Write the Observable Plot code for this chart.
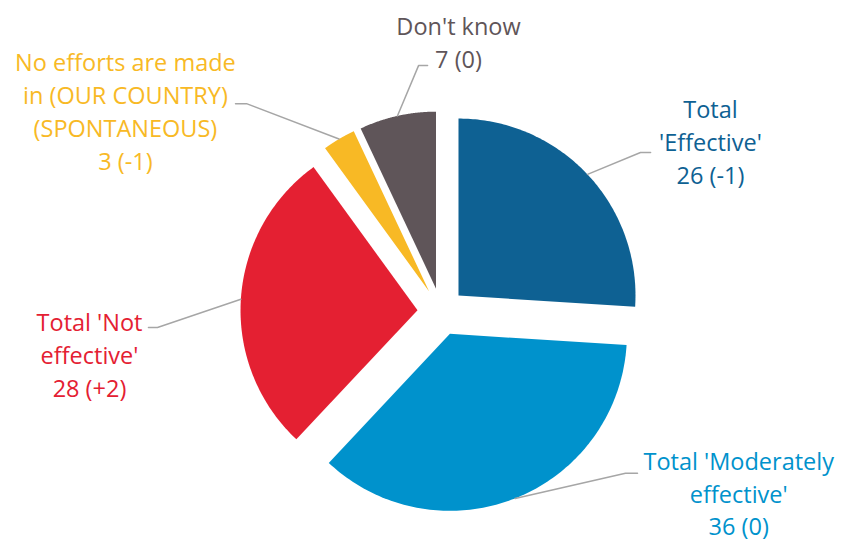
<!DOCTYPE html>
<html><head><meta charset="utf-8">
<script src="https://cdn.jsdelivr.net/npm/d3@7"></script>
<script src="https://cdn.jsdelivr.net/npm/@observablehq/plot@0.6"></script>
<style>body{margin:0;background:#fff}</style>
</head><body><div id="chart"></div>
<script>
// ---- data ----
const categories = ["Total 'Effective'", "Total 'Moderately effective'", "Total 'Not effective'", "No efforts are made in (OUR COUNTRY) (SPONTANEOUS)", "Don't know"];
const values = [26, 36, 28, 3, 7];
const changes = ["-1", "0", "+2", "-1", "0"];
const labelLines = [["Total", "'Effective'"], ["Total 'Moderately", "effective'"], ["Total 'Not", "effective'"], ["No efforts are made", "in (OUR COUNTRY)", "(SPONTANEOUS)"], ["Don't know"]];
const colors = ["#0e6193", "#0092cc", "#e42032", "#f8b925", "#5f5559"];

// ---- layout (unit coordinates: pie centre at 0,0, radius 1) ----
const W = 843, H = 544, R = 177, CX = 440.7, CY = 311.3, EXPLODE = 0.134;
const labelPos = [[1.521, 0.966], [1.681, -1.018], [-1.987, -0.236], [-1.784, 1.140], [0.098, 1.531]];
const elbowPos = [[1.126, 0.900, 1.183], [1.041, -0.912, 1.109], [-1.603, -0.089, -1.654], [-1.100, 1.176, -1.162], [-0.128, 1.391, -0.077]];

const pie = d3.pie().sort(null).value(d => d)(values);
const slicePts = [];
const leaderPts = [];
const labels = [];
pie.forEach((p, i) => {
  const key = categories[i];
  const mid = (p.startAngle + p.endAngle) / 2;
  const ox = EXPLODE * Math.sin(mid), oy = EXPLODE * Math.cos(mid);
  slicePts.push({key, x: ox, y: oy});
  const n = 120;
  for (let k = 0; k <= n; k++) {
    const a = p.startAngle + (p.endAngle - p.startAngle) * k / n;
    slicePts.push({key, x: ox + Math.sin(a), y: oy + Math.cos(a)});
  }
  const r = 1 + EXPLODE;
  const [ex, ey, ex2] = elbowPos[i];
  leaderPts.push({key, x: r * Math.sin(mid), y: r * Math.cos(mid)});
  leaderPts.push({key, x: ex, y: ey});
  leaderPts.push({key, x: ex2, y: ey});
  labels.push({key, x: labelPos[i][0], y: labelPos[i][1], text: [...labelLines[i], `${values[i]} (${changes[i]})`].join("\n")});
});

const chart = Plot.plot({
  width: W, height: H,
  marginTop: 0, marginRight: 0, marginBottom: 0, marginLeft: 0,
  x: {domain: [-CX / R, (W - CX) / R], range: [0, W], axis: null},
  y: {domain: [-(H - CY) / R, CY / R], range: [H, 0], axis: null},
  color: {domain: categories, range: colors},
  style: {fontFamily: "'Open Sans', sans-serif", background: "#fff"},
  marks: [
    Plot.line(slicePts, {x: "x", y: "y", z: "key", fill: "key", stroke: "none", curve: "linear"}),
    Plot.line(leaderPts, {x: "x", y: "y", z: "key", stroke: "#a6a6a6", strokeWidth: 1.5}),
    Plot.text(labels, {x: "x", y: "y", text: "text", fill: "key", fontSize: 23.5, lineHeight: 1.4, textAnchor: "middle", lineAnchor: "middle"})
  ]
});
document.getElementById("chart").appendChild(chart);
</script>
</body></html>
